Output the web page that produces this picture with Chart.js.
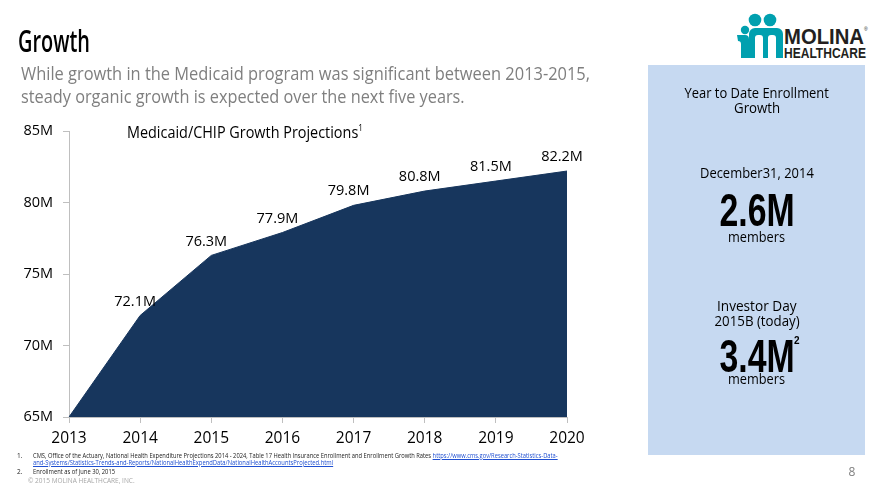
<!DOCTYPE html>
<html><head><meta charset="utf-8">
<script src="https://cdn.jsdelivr.net/npm/chart.js@4.4.1/dist/chart.umd.min.js"></script>
<style>
html,body{margin:0;padding:0;background:#fff;width:880px;height:495px;overflow:hidden;font-family:"Open Sans",sans-serif;}
#panel{position:absolute;left:648px;top:65px;width:217px;height:390px;background:#c6d9f1;}
#chart{position:absolute;left:0;top:0;}
.t{position:absolute;white-space:nowrap;line-height:1;}
a,.lnk{color:#1f4fd1;text-decoration:underline;}
</style></head><body>
<div id="panel"></div>
<svg style="position:absolute;left:0;top:0" width="880" height="495">
  <g fill="#00a0af">
    <circle cx="745" cy="30" r="4.2"/>
    <path d="M737,35 h8 a4,4 0 0 1 4,4 v19 h-8 v-14 a3,3 0 0 0 -3,-3 z"/>
    <circle cx="755" cy="20" r="6.3"/>
    <circle cx="770" cy="20" r="6.3"/>
    <path d="M749,58 v-24 a6,6 0 0 1 6,-6 h22 a6,6 0 0 1 6,6 v24 h-7 v-20 a3,3 0 0 0 -3,-3 h-2 a3,3 0 0 0 -3,3 v20 h-5 v-20 a3,3 0 0 0 -3,-3 h-2 a3,3 0 0 0 -3,3 v20 z"/>
  </g>
  <text x="784" y="44" font-family="Liberation Sans, Arial, sans-serif" font-weight="bold" font-size="22" fill="#231f20" textLength="80" lengthAdjust="spacingAndGlyphs">MOLINA</text>
  <text x="864" y="31" font-family="Liberation Sans, Arial, sans-serif" font-size="5" fill="#231f20">®</text>
  <text x="784" y="58" font-family="Liberation Sans, Arial, sans-serif" font-weight="bold" font-size="14" fill="#231f20" textLength="82" lengthAdjust="spacingAndGlyphs">HEALTHCARE</text>
</svg>
<canvas id="chart" width="880" height="495"></canvas>
<script>
// ---- data ----
const years = ['2013','2014','2015','2016','2017','2018','2019','2020'];
const enrollment = [65.0, 72.1, 76.3, 77.9, 79.8, 80.8, 81.5, 82.2];
const valueLabels = ['', '72.1M', '76.3M', '77.9M', '79.8M', '80.8M', '81.5M', '82.2M'];
const yTicks = [65, 70, 75, 80, 85];

// ---- text placement helper ----
function place(html, x, cy, w, font, color, align) {
  const s = document.createElement('span');
  s.className = 't';
  s.innerHTML = html;
  s.style.font = font;
  s.style.color = color;
  document.body.appendChild(s);
  const bw = s.offsetWidth, bh = s.offsetHeight;
  const k = w ? w / bw : 1;
  s.style.top = (cy - bh / 2) + 'px';
  if (align === 'center') {
    s.style.left = (x - bw / 2) + 'px';
    s.style.transformOrigin = '50% 50%';
  } else {
    s.style.left = x + 'px';
    s.style.transformOrigin = '0 50%';
  }
  s.style.transform = 'scaleX(' + k + ')';
  return s;
}
const F = '"Open Sans", sans-serif';
place('Growth', 18, 40, 72, '600 31px ' + F, '#000');
place('While growth in the Medicaid program was significant between 2013-2015,', 21, 72, 569, '18.5px ' + F, '#7f7f7f');
place('steady organic growth is expected over the next five years.', 21, 95, 444, '18.5px ' + F, '#7f7f7f');
place('Medicaid/CHIP Growth Projections<sup style="font-size:9px;vertical-align:7px">1</sup>', 127, 132, 236, '16px ' + F, '#000');

const PX = 756.5;
place('Year to Date Enrollment', PX, 92, 144, '15px ' + F, '#000', 'center');
place('Growth', PX, 107, 46, '15px ' + F, '#000', 'center');
place('December31, 2014', PX, 172, 114, '15px ' + F, '#000', 'center');
place('2.6M', PX, 210, 75, 'bold 46px "Liberation Sans", Arial, sans-serif', '#000', 'center');
place('members', PX, 236, 57, '15px ' + F, '#000', 'center');
place('Investor Day', PX, 305, 80, '15px ' + F, '#000', 'center');
place('2015B (today)', PX, 320, 85, '15px ' + F, '#000', 'center');
place('3.4M', PX, 356, 75, 'bold 46px "Liberation Sans", Arial, sans-serif', '#000', 'center');
place('2', 794, 340, 0, 'bold 10px "Liberation Sans", Arial, sans-serif', '#000');
place('members', PX, 378, 57, '15px ' + F, '#000', 'center');

place('1.', 17, 455, 0, '6.5px ' + F, '#222');
place('CMS, Office of the Actuary, National Health Expenditure Projections 2014 - 2024, Table 17 Health Insurance Enrollment and Enrollment Growth Rates <span class="lnk">https://www.cms.gov/Research-Statistics-Data-</span>', 33, 455, 525, '6.5px ' + F, '#222');
place('<span class="lnk">and-Systems/Statistics-Trends-and-Reports/NationalHealthExpendData/NationalHealthAccountsProjected.html</span>', 33, 462, 300, '6.5px ' + F, '#222');
place('2.', 17, 471, 0, '6.5px ' + F, '#222');
place('Enrollment as of June 30, 2015', 33, 471, 82, '6.5px ' + F, '#222');
place('© 2015 MOLINA HEALTHCARE, INC.', 28, 480, 107, '7px ' + F, '#a6a6a6');
place('8', 852, 471, 0, '12px ' + F, '#7f7f7f', 'center');

// ---- chart ----
const labelPlugin = {
  id: 'valueLabels',
  afterDatasetsDraw(chart) {
    const ctx = chart.ctx;
    const meta = chart.getDatasetMeta(0);
    ctx.save();
    ctx.font = '14.5px "Open Sans", sans-serif';
    ctx.fillStyle = '#000';
    ctx.textAlign = 'center';
    ctx.textBaseline = 'middle';
    meta.data.forEach((pt, i) => {
      if (!valueLabels[i]) return;
      ctx.fillText(valueLabels[i], pt.x - 5, pt.y - 14);
    });
    ctx.restore();
  }
};

new Chart(document.getElementById('chart'), {
  type: 'line',
  data: {
    labels: years,
    datasets: [{
      data: enrollment,
      fill: 'start',
      backgroundColor: '#17365d',
      borderColor: '#17365d',
      borderWidth: 1,
      pointRadius: 0,
      tension: 0
    }]
  },
  options: {
    responsive: false,
    animation: false,
    devicePixelRatio: 1,
    layout: { padding: { left: 0, right: 313, top: 131, bottom: 48 } },
    plugins: { legend: { display: false }, tooltip: { enabled: false } },
    scales: {
      x: {
        type: 'category',
        offset: false,
        afterFit(s) { s.height = 30; },
        grid: { display: true, drawOnChartArea: false, drawTicks: true, tickLength: 6, color: '#bfbfbf' },
        border: { display: true, color: '#bfbfbf', width: 1 },
        ticks: { color: '#000', font: { family: '"Open Sans", sans-serif', size: 15.5 }, padding: 6, maxRotation: 0, autoSkip: false }
      },
      y: {
        min: yTicks[0],
        max: yTicks[yTicks.length - 1],
        afterFit(s) { s.width = 69; },
        afterBuildTicks(s) { s.ticks = yTicks.map(v => ({ value: v })); },
        grid: { display: true, drawOnChartArea: false, drawTicks: true, tickLength: 6, color: '#bfbfbf' },
        border: { display: true, color: '#bfbfbf', width: 1 },
        ticks: { color: '#000', font: { family: '"Open Sans", sans-serif', size: 14.5 }, padding: 10, callback: v => v + 'M' }
      }
    }
  },
  plugins: [labelPlugin]
});
</script>
</body></html>
